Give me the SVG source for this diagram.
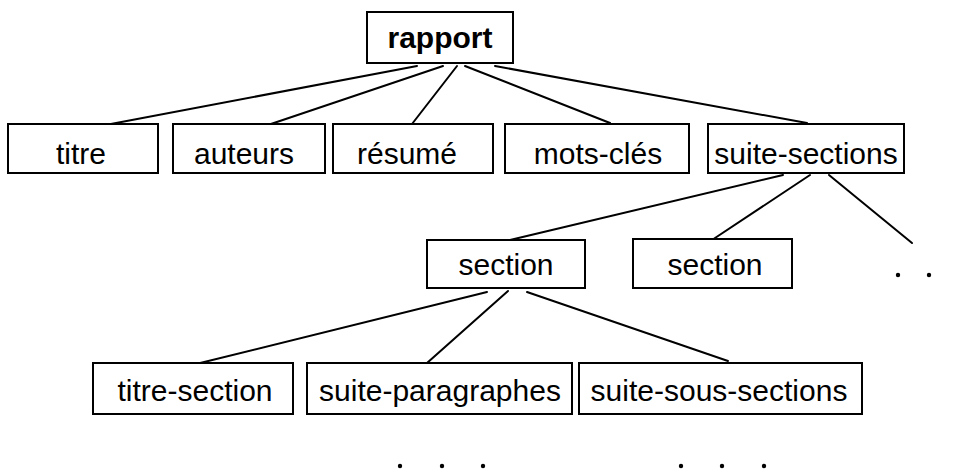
<svg xmlns="http://www.w3.org/2000/svg" width="954" height="471" viewBox="0 0 954 471">
  <style>
    .box { fill: #fff; stroke: #000; stroke-width: 2; }
    .lbl { font-family: "Liberation Sans", Arial, sans-serif; font-size: 30px; fill: #000; text-anchor: middle; }
    .bold { font-weight: bold; }
    .edge { stroke: #000; stroke-width: 2; fill: none; stroke-linecap: round; }
    .dot { fill: #000; }
  </style>
  <rect width="954" height="471" fill="#fff"/>

  <!-- tree edges -->
  <g id="connectors">
    <line class="edge" x1="417" y1="66" x2="95" y2="127"/>
    <line class="edge" x1="443" y1="66" x2="262" y2="127"/>
    <line class="edge" x1="457" y1="66" x2="412" y2="124"/>
    <line class="edge" x1="465" y1="66" x2="610" y2="123"/>
    <line class="edge" x1="495" y1="66" x2="807" y2="123"/>

    <line class="edge" x1="783" y1="175" x2="510" y2="240"/>
    <line class="edge" x1="810" y1="175" x2="712" y2="240"/>
    <line class="edge" x1="829" y1="175" x2="912" y2="243"/>

    <line class="edge" x1="487" y1="292" x2="192" y2="365"/>
    <line class="edge" x1="508" y1="291" x2="427" y2="363"/>
    <line class="edge" x1="527" y1="292" x2="728" y2="361"/>
  </g>

  <g id="rapport">
    <rect class="box" x="367" y="12" width="146" height="51"/>
    <text class="lbl bold" x="440" y="48">rapport</text>
  </g>

  <g id="titre">
    <rect class="box" x="8" y="124" width="150" height="49"/>
    <text class="lbl" x="81" y="164">titre</text>
  </g>
  <g id="auteurs">
    <rect class="box" x="173" y="124" width="152" height="49"/>
    <text class="lbl" x="244" y="164">auteurs</text>
  </g>
  <g id="resume">
    <rect class="box" x="333" y="124" width="160" height="49"/>
    <text class="lbl" x="407" y="164">résumé</text>
  </g>
  <g id="mots-cles">
    <rect class="box" x="505" y="124" width="184" height="49"/>
    <text class="lbl" x="598" y="164">mots-clés</text>
  </g>
  <g id="suite-sections">
    <rect class="box" x="708" y="124" width="196" height="49"/>
    <text class="lbl" x="806" y="164">suite-sections</text>
  </g>

  <g id="section-1">
    <rect class="box" x="427" y="240" width="158" height="48"/>
    <text class="lbl" x="506" y="275">section</text>
  </g>
  <g id="section-2">
    <rect class="box" x="633" y="239" width="159" height="49"/>
    <text class="lbl" x="715" y="275">section</text>
  </g>
  <g id="more-sections">
    <circle class="dot" cx="898" cy="275" r="2.2"/>
    <circle class="dot" cx="929" cy="275" r="2.2"/>
  </g>

  <g id="titre-section">
    <rect class="box" x="93" y="363" width="200" height="51"/>
    <text class="lbl" x="195" y="401">titre-section</text>
  </g>
  <g id="suite-paragraphes">
    <rect class="box" x="307" y="363" width="265" height="51"/>
    <text class="lbl" x="440" y="401">suite-paragraphes</text>
  </g>
  <g id="suite-sous-sections">
    <rect class="box" x="579" y="363" width="283" height="51"/>
    <text class="lbl" x="719" y="401">suite-sous-sections</text>
  </g>

  <g id="continuation">
    <circle class="dot" cx="400" cy="466" r="2.2"/>
    <circle class="dot" cx="442" cy="466" r="2.2"/>
    <circle class="dot" cx="483" cy="466" r="2.2"/>
    <circle class="dot" cx="681" cy="466" r="2.2"/>
    <circle class="dot" cx="722" cy="466" r="2.2"/>
    <circle class="dot" cx="764" cy="466" r="2.2"/>
  </g>
</svg>
